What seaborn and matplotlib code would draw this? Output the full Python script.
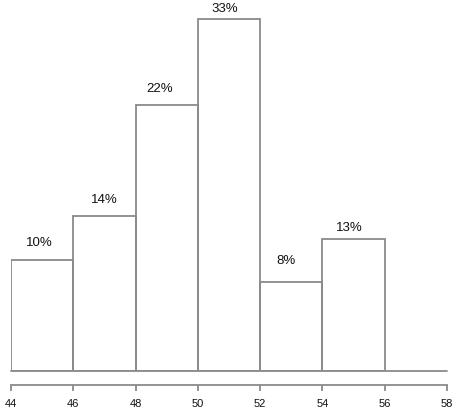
import numpy as np
import matplotlib
matplotlib.use("Agg")
import matplotlib.pyplot as plt
import seaborn as sns

# Data
bin_edges = [44, 46, 48, 50, 52, 54, 56]
bar_heights = [10.4, 14.5, 24.9, 33.0, 8.3, 12.4]   # bar heights as drawn
bar_labels = ["10%", "14%", "22%", "33%", "8%", "13%"]
tick_values = [44, 46, 48, 50, 52, 54, 56, 58]

# label offsets (pixels) for placement only
label_dx = [-3, 0, -7, -4, -5, -4]
label_dy = [18, 17, 17, 11, 22, 12]

sns.set_style("white")
plt.rcParams["font.family"] = ["Liberation Sans", "DejaVu Sans"]

W, H = 458, 414
fig = plt.figure(figsize=(W / 100, H / 100), dpi=100)
ax = fig.add_axes([11 / W, 42 / H, 436 / W, 372 / H])

centers = [(a + b) / 2 for a, b in zip(bin_edges[:-1], bin_edges[1:])]
gray = "#8a8a8a"
sns.histplot(x=centers, weights=bar_heights, bins=bin_edges, fill=False,
             color=gray, linewidth=1.3, ax=ax)

ax.set_xlim(44, 58)
ax.set_ylim(0, 372 / 10.68)
ax.axhline(0, color=gray, linewidth=1.3, clip_on=False)

for c, h, lab, dx, dy in zip(centers, bar_heights, bar_labels, label_dx, label_dy):
    ax.annotate(lab, xy=(c, h), xytext=(dx * 0.72, dy * 0.72), textcoords="offset points",
                ha="center", va="center", fontsize=9.5, color="#111111")

for s in ["top", "right", "left"]:
    ax.spines[s].set_visible(False)
ax.spines["bottom"].set_position(("outward", 14 * 0.72))
ax.spines["bottom"].set_color(gray)
ax.spines["bottom"].set_linewidth(1.3)
ax.set_xticks(tick_values)
ax.set_xticklabels([str(t) for t in tick_values])
ax.tick_params(axis="x", direction="out", length=6 * 0.72, width=1.3, color=gray,
               labelsize=8, labelcolor="#111111", pad=5, bottom=True)
ax.set_yticks([])
ax.set_xlabel("")
ax.set_ylabel("")

fig.savefig("out.png", dpi=100)
